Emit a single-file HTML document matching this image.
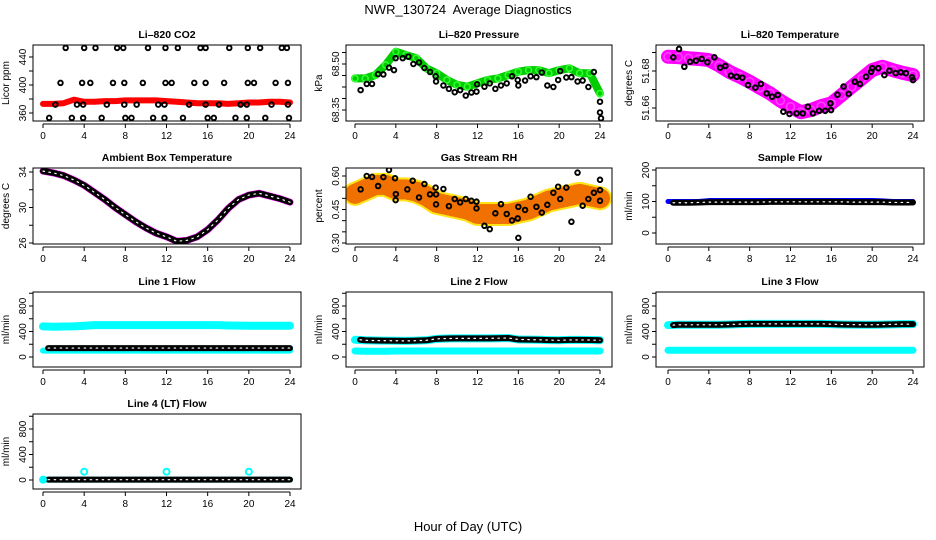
<!DOCTYPE html>
<html><head><meta charset="utf-8"><style>
body{margin:0;background:#fff}
svg{display:block;font-family:"Liberation Sans",sans-serif}
</style></head><body>
<svg id="chart" width="936" height="540" viewBox="0 0 936 540">
<text x="468" y="14" text-anchor="middle" font-size="13">NWR_130724&#160; Average Diagnostics</text>
<text x="468" y="531" text-anchor="middle" font-size="13">Hour of Day (UTC)</text>
</svg>
<script>
const hours = [0,1,2,3,4,5,6,7,8,9,10,11,12,13,14,15,16,17,18,19,20,21,22,23,24];
const blackHours = [0.5,1,2,3,4,5,6,7,8,9,10,11,12,13,14,15,16,17,18,19,20,21,22,23,24];
const xTicks = [0,4,8,12,16,20,24];

// CO2
const co2Red = [373,373,374,379,376,376,377,377,378,378,378,378,377,376,375,374,374,374,373,374,375,375,376,376,375];
const co2BlackH = [2.2,4.0,5.1,7.2,7.8,10.2,11.9,13.1,15.3,15.8,18.1,19.9,21.1,23.2,23.7,
 1.7,3.8,4.6,6.8,7.9,9.7,11.9,12.5,14.7,15.8,17.6,19.9,20.5,22.6,23.8,
 1.2,3.3,3.9,6.2,7.9,9.1,11.2,11.8,14.2,15.8,17.1,19.2,19.8,22.2,23.8,
 0.6,2.8,3.9,5.7,8.0,8.6,10.7,11.8,13.6,16.0,16.6,18.7,19.8,21.6,23.9];
const co2BlackV = [453,453,453,453,453,453,453,453,453,453,453,453,453,453,453,
 403,403,403,403,403,403,403,403,403,403,403,403,403,403,403,
 372,372,372,372,372,372,372,372,372,372,372,372,372,372,372,
 353,353,353,353,353,353,353,353,353,353,353,353,353,353,353];

// Pressure
const presGreen = [68.453,68.453,68.464,68.497,68.540,68.529,68.519,68.486,68.470,68.448,68.432,68.426,68.437,68.448,68.453,68.464,68.475,68.480,68.480,68.470,68.480,68.486,68.470,68.470,68.404];
const presBlackH = [0.55,1.15,1.67,2.26,2.78,3.33,3.82,3.98,4.67,5.23,5.72,6.27,6.8,7.35,7.9,7.94,8.66,9.2,9.77,10.3,10.85,11.4,11.9,11.96,12.68,13.2,13.75,14.3,14.86,15.38,15.94,16.0,16.66,17.2,17.77,18.3,18.84,19.43,19.9,20.1,20.7,21.2,21.8,22.3,22.86,23.4,24.0,24.0,24.1];
const presBlackV = [68.415,68.435,68.435,68.467,68.466,68.488,68.480,68.519,68.519,68.524,68.500,68.505,68.487,68.474,68.460,68.443,68.430,68.419,68.408,68.415,68.397,68.407,68.410,68.434,68.426,68.437,68.419,68.430,68.437,68.460,68.448,68.430,68.446,68.460,68.457,68.472,68.430,68.425,68.448,68.477,68.456,68.457,68.443,68.446,68.425,68.474,68.377,68.342,68.323];

// Li-820 temperature
const tempMag = [51.6877,51.6875,51.6869,51.6865,51.6859,51.683,51.6796,51.677,51.6742,51.671,51.6679,51.664,51.6607,51.6577,51.6589,51.661,51.6625,51.667,51.6715,51.676,51.6805,51.6823,51.6805,51.679,51.6778];
const tempBlackH = [0.52,1.08,1.6,2.16,2.74,3.3,3.86,4.54,5.1,5.62,6.17,6.73,7.28,7.84,8.56,9.1,9.67,10.2,10.75,11.3,11.9,12.6,13.2,13.7,14.2,14.8,15.4,15.9,15.97,16.6,17.2,17.7,18.3,18.8,19.4,19.9,20.0,20.6,21.2,21.7,22.3,22.8,23.3,23.9,24.0];
const tempBlackV = [51.6874,51.6919,51.6823,51.6850,51.6856,51.6865,51.6847,51.6874,51.6818,51.6827,51.6775,51.6769,51.6764,51.6724,51.6710,51.6730,51.6679,51.6661,51.6670,51.6580,51.6568,51.6571,51.6571,51.6607,51.6571,51.6585,51.6585,51.6625,51.6589,51.6672,51.6716,51.6676,51.6742,51.6730,51.6769,51.6796,51.6815,51.6815,51.6778,51.6802,51.6788,51.6793,51.6788,51.6766,51.6751];

// Ambient box temperature
const ambTemp = [34.1,33.9,33.6,33.1,32.5,31.7,30.9,30.0,29.2,28.4,27.7,27.1,26.7,26.2,26.3,26.7,27.5,28.6,29.9,30.9,31.4,31.6,31.3,31.0,30.6];

// Gas stream RH
const rhBand = [0.52,0.54,0.56,0.56,0.54,0.54,0.53,0.51,0.48,0.47,0.46,0.45,0.43,0.43,0.43,0.43,0.44,0.45,0.47,0.49,0.50,0.51,0.52,0.51,0.50];
const rhBlackH = [0.55,1.15,1.67,2.26,2.78,3.33,3.92,4.0,3.98,5.13,5.65,6.27,6.8,7.35,7.9,7.94,7.94,8.66,9.2,9.77,10.3,10.85,11.4,11.9,11.9,12.68,13.2,13.75,14.3,14.86,15.38,15.94,16.0,16.0,16.66,17.2,17.77,18.3,18.84,19.43,19.9,20.1,20.7,21.2,21.8,22.3,22.86,23.4,24.0,24.0,24.0];
const rhBlackV = [0.540,0.600,0.596,0.555,0.595,0.627,0.590,0.519,0.492,0.540,0.579,0.504,0.564,0.518,0.548,0.518,0.473,0.542,0.465,0.497,0.482,0.497,0.489,0.485,0.455,0.377,0.362,0.433,0.474,0.430,0.401,0.410,0.462,0.323,0.448,0.507,0.462,0.436,0.471,0.525,0.552,0.497,0.548,0.395,0.615,0.467,0.497,0.525,0.583,0.537,0.489];

// Sample flow
const sampleBlue = [100,100,100,100,103,103,103,103,103,103,103,103,103,103,103,103,103,103,103,103,103,102,100,100,100];
const sampleBlack = [96,96,96,97,98,98,98,98,98,98,99,99,99,99,99,99,99,99,98,98,98,98,97,97,97];

// Line flows
const line1CyanHi = [480,475,478,480,490,500,500,500,500,500,500,500,500,500,500,500,500,500,495,492,490,490,490,490,490];
const line1CyanLo = [100,100,100,100,100,100,100,100,100,100,100,100,100,100,100,100,100,100,100,100,100,100,100,100,100];
const line1Black = [140,140,140,140,140,140,140,140,140,140,140,140,140,140,140,140,140,140,140,140,140,140,140,140,140];
const line2Cyan = [95,90,90,90,95,95,95,95,95,95,95,95,95,95,95,95,95,95,95,95,95,95,95,95,95];
const line2Black = [270,262,258,256,255,252,256,262,285,290,292,292,292,293,295,298,275,272,270,265,262,268,268,266,262];
const line3Cyan = [105,105,105,105,105,105,105,105,105,105,105,105,105,105,105,105,105,105,105,105,105,105,105,105,105];
const line3Black = [500,505,505,505,505,505,510,515,520,520,520,520,520,520,520,520,515,510,508,505,505,508,512,515,515];
const line4Cyan = [5,5,5,5,5,5,5,5,5,5,5,5,5,5,5,5,5,5,5,5,5,5,5,5,5];
const line4Black = [5,5,5,5,5,5,5,5,5,5,5,5,5,5,5,5,5,5,5,5,5,5,5,5,5];
const line4SpikeH = [0,4,12,20];
const line4SpikeV = [5,130,130,130];

const NS = "http://www.w3.org/2000/svg";
const svg = document.getElementById('chart');
function mk(tag, attrs, parent){
  const e = document.createElementNS(NS, tag);
  for (const k in attrs) e.setAttribute(k, attrs[k]);
  parent.appendChild(e);
  return e;
}
const cols = [[33,301,43,290],[346,612,355,600],[656,924,668,913]];
const rows = [[45,121],[168,244],[292,367],[414,489]];

function panel(name, title, ylab, col, row, yref, yticks, ylabels){
  const c = cols[col], r = rows[row];
  const g = mk('g', {}, svg);
  
  
  const sx = h => c[2] + (c[3]-c[2]) * h / 24;
  const sy = v => yref[1] + (v - yref[0]) * (yref[3]-yref[1]) / (yref[2]-yref[0]);
  const clipId = 'clip-' + name;
  const cp = mk('clipPath', {id: clipId}, g);
  mk('rect', {x:c[0], y:r[0], width:c[1]-c[0], height:r[1]-r[0]}, cp);
  const plot = mk('g', {'clip-path': 'url(#'+clipId+')'}, g);
  
  
  const t = mk('text', {x:(c[0]+c[1])/2, y:r[0]-7, 'text-anchor':'middle', 'font-size':'10.5', 'font-weight':'bold'}, g);
  t.textContent = title;
  
  
  const yl = mk('text', {x:0, y:0, 'text-anchor':'middle', 'font-size':'10', transform:'translate('+(c[0]-24)+','+((r[0]+r[1])/2)+') rotate(-90)'}, g);
  yl.textContent = ylab;
  
  
  const box = mk('rect', {x:c[0], y:r[0], width:c[1]-c[0], height:r[1]-r[0], fill:'none', stroke:'#000', 'stroke-width':'1'}, g);
  
  
  for (const h of xTicks){
    const x = sx(h);
    mk('line', {x1:x, x2:x, y1:r[1]+3, y2:r[1]+7, stroke:'#000'}, g);
    const tl = mk('text', {x:x, y:r[1]+18, 'text-anchor':'middle', 'font-size':'10'}, g);
    tl.textContent = h;
    
    
  }
  mk('line', {x1:sx(0), x2:sx(24), y1:r[1]+3, y2:r[1]+3, stroke:'#000'}, g);
  for (const v of yticks){
    const y = sy(v);
    if (y < r[0]-1 || y > r[1]+1) continue;
    mk('line', {x1:c[0]-4, x2:c[0], y1:y, y2:y, stroke:'#000'}, g);
  }
  for (const v of ylabels){
    const y = sy(v);
    const tl = mk('text', {x:0, y:0, 'text-anchor':'middle', 'font-size':'10', transform:'translate('+(c[0]-7)+','+y+') rotate(-90)'}, g);
    tl.textContent = v;
    
    
  }
  return {plot, sx, sy};
}
function band(p, xs, ys, color, w, name){
  const pts = xs.map((h,i)=>p.sx(h)+','+p.sy(ys[i])).join(' ');
  const e = mk('polyline', {points:pts, fill:'none', stroke:color, 'stroke-width':w, 'stroke-linejoin':'round', 'stroke-linecap':'round'}, p.plot);
  
  
  return e;
}
function dots(p, xs, ys, color, r, sw, name){
  const g = mk('g', {}, p.plot);
  
  
  xs.forEach((h,i)=>{ mk('circle', {cx:p.sx(h), cy:p.sy(ys[i]), r:r, fill:'none', stroke:color, 'stroke-width':sw}, g); });
  return g;
}
function chain(p, xs, ys, name){
  band(p, xs, ys, '#000', 6, name);
  const e = band(p, xs, ys, '#fff', 1.2, name + '-holes');
  e.setAttribute('stroke-dasharray', '1.5 4.5');
}

// Panel 1
let p = panel('co2-panel','Li\u2013820 CO2','Licor ppm',0,0,[360,113,440,57],[360,380,400,420,440],[360,400,440]);
band(p, hours, co2Red, '#f00', 6, 'co2-red-series');
dots(p, co2BlackH, co2BlackV, '#000', 2.3, 1.9, 'co2-black-points');

// Panel 2
p = panel('pressure-panel','Li\u2013820 Pressure','kPa',1,0,[68.35,110,68.50,64],[68.35,68.3875,68.425,68.4625,68.50,68.5375],['68.35','68.50']);
band(p, hours, presGreen, '#0c0', 8, 'pressure-green-series');
dots(p, hours, presGreen, '#3f3', 3, 1.5, 'pressure-green-points');
dots(p, presBlackH, presBlackV, '#000', 2.3, 1.9, 'pressure-black-points');

// Panel 3
p = panel('li820-temp-panel','Li\u2013820 Temperature','degrees C',2,0,[51.66,108,51.68,71],[51.66,51.67,51.68,51.69],['51.66','51.68']);
band(p, hours, tempMag, '#f0f', 14, 'temp-magenta-series');
dots(p, hours, tempMag, '#f4f', 4, 1.5, 'temp-magenta-points');
dots(p, tempBlackH, tempBlackV, '#000', 2.3, 2, 'temp-black-points');

// Panel 4
p = panel('ambient-temp-panel','Ambient Box Temperature','degrees C',0,1,[26,243,34,172],[26,28,30,32,34],[26,30,34]);
band(p, hours, ambTemp, '#f0f', 7, 'ambient-magenta-series');
chain(p, hours, ambTemp, 'ambient-black-series');

// Panel 5
p = panel('rh-panel','Gas Stream RH','percent',1,1,[0.30,243,0.60,176],[0.30,0.35,0.40,0.45,0.50,0.55,0.60],['0.30','0.45','0.60']);
const yb = band(p, hours, rhBand, '#ffe000', 24, 'rh-yellow-band');
yb.setAttribute('stroke-opacity', '0.9');
const ob = band(p, hours, rhBand, '#f07000', 20, 'rh-orange-band');
ob.setAttribute('stroke-dasharray', '1.5 2.5');
dots(p, rhBlackH, rhBlackV, '#000', 2.3, 1.9, 'rh-black-points');

// Panel 6
p = panel('sample-flow-panel','Sample Flow','ml/min',2,1,[0,233,200,170],[0,50,100,150,200],[0,100,200]);
band(p, hours, sampleBlue, '#00f', 5, 'sample-blue-series');
chain(p, blackHours, sampleBlack, 'sample-black-series');

// Panel 7
p = panel('line1-flow-panel','Line 1 Flow','ml/min',0,2,[0,357,800,306],[0,200,400,600,800,1000],[0,400,800]);
band(p, hours, line1CyanHi, '#0ff', 8, 'line1-cyan-high');
band(p, hours, line1CyanLo, '#0ff', 6, 'line1-cyan-low');
chain(p, blackHours, line1Black, 'line1-black-series');

// Panel 8
p = panel('line2-flow-panel','Line 2 Flow','ml/min',1,2,[0,357,800,306],[0,200,400,600,800,1000],[0,400,800]);
band(p, hours, line2Cyan, '#0ff', 7, 'line2-cyan-series');
band(p, hours, line2Black, '#0ff', 8, 'line2-cyan-upper');
chain(p, blackHours, line2Black, 'line2-black-series');

// Panel 9
p = panel('line3-flow-panel','Line 3 Flow','ml/min',2,2,[0,357,800,306],[0,200,400,600,800,1000],[0,400,800]);
band(p, hours, line3Cyan, '#0ff', 7, 'line3-cyan-series');
band(p, hours, line3Black, '#0ff', 8, 'line3-cyan-upper');
chain(p, blackHours, line3Black, 'line3-black-series');

// Panel 10
p = panel('line4-flow-panel','Line 4 (LT) Flow','ml/min',0,3,[0,480,800,429],[0,200,400,600,800,1000],[0,400,800]);
band(p, hours, line4Cyan, '#0ff', 6, 'line4-cyan-series');
chain(p, blackHours, line4Black, 'line4-black-series');
dots(p, line4SpikeH, line4SpikeV, '#0ff', 3, 2, 'line4-cyan-spikes');
</script>
</body></html>
